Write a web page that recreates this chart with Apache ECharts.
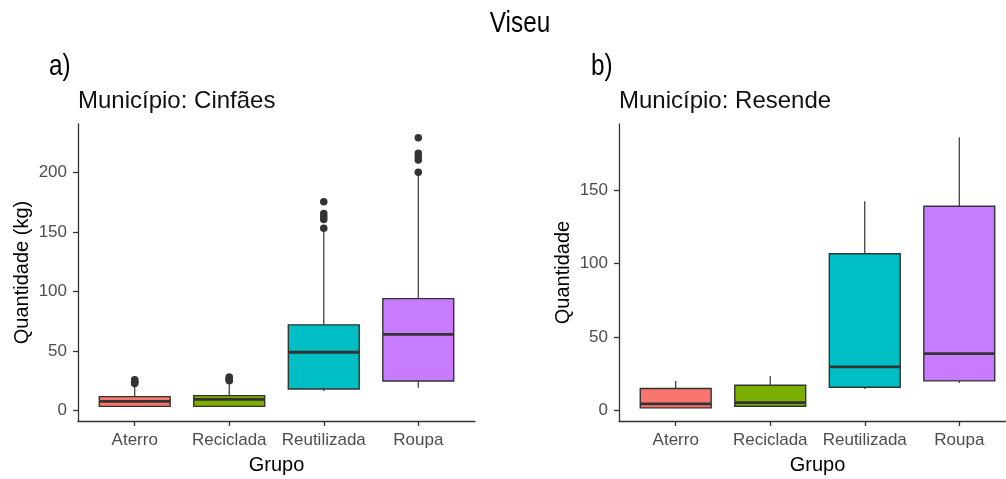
<!DOCTYPE html>
<html>
<head>
<meta charset="utf-8">
<script src="https://cdn.jsdelivr.net/npm/echarts@6/dist/echarts.min.js"></script>
<style>
  html, body { margin: 0; padding: 0; background: #fff; }
  #chart { width: 1006px; height: 479px; }
</style>
</head>
<body>
<div id="chart"></div>
<script>
// Groups shown on both panels
const categories = ['Aterro', 'Reciclada', 'Reutilizada', 'Roupa'];
const fills = ['#F8766D', '#7CAE00', '#00BFC4', '#C77CFF'];

// Box statistics per group: [lower whisker, Q1, median, Q3, upper whisker]
const cinfaesStats = [
  [3.6, 3.6, 7.8, 11.8, 19.8],
  [3.6, 3.6, 9.5, 12.6, 22.2],
  [16.5, 18.2, 49, 72, 150],
  [19.3, 24.9, 64, 94, 198]
];
const cinfaesOutliers = [
  [22.8, 23.7, 24.6, 25.9],
  [25, 26, 27, 28.2],
  [153, 160.5, 163, 165.5, 175.3],
  [200, 210.3, 213, 216, 229]
];
const resendeStats = [
  [1.5, 1.8, 4.5, 15, 20.2],
  [2.5, 2.9, 5.4, 17.2, 23.6],
  [14.7, 15.9, 29.7, 106.7, 142.4],
  [18.8, 20.2, 38.8, 139, 186]
];
const resendeOutliers = [[], [], [], []];

// Axis ticks and ranges
const cinfaesTicks = [0, 50, 100, 150, 200];
const resendeTicks = [0, 50, 100, 150];
const cinfaesRange = [-8.7, 240.6];
const resendeRange = [-7.1, 195];
const groupTicks = [1, 2, 3, 4];

const INK = '#333333';
const TICK_TEXT = '#4D4D4D';
const SANS = "'Liberation Sans', Arial, sans-serif";

function boxData(stats) {
  return stats.map((s, i) => [i + 1].concat(s));
}
function outlierData(outs) {
  const pts = [];
  outs.forEach((list, i) => list.forEach(v => pts.push([i + 1, v])));
  return pts;
}

// ggplot-style box: whiskers without caps, filled box, thick median
function renderBox(params, api) {
  const x = api.value(0);
  const lo = api.coord([x, api.value(1)]);
  const q1 = api.coord([x, api.value(2)]);
  const med = api.coord([x, api.value(3)]);
  const q3 = api.coord([x, api.value(4)]);
  const hi = api.coord([x, api.value(5)]);
  const half = api.size([0.75, 0])[0] / 2;
  const cx = q1[0];
  return {
    type: 'group',
    children: [
      { type: 'line', shape: { x1: cx, y1: q3[1], x2: cx, y2: hi[1] },
        style: { stroke: INK, lineWidth: 1.2 } },
      { type: 'line', shape: { x1: cx, y1: q1[1], x2: cx, y2: lo[1] },
        style: { stroke: INK, lineWidth: 1.2 } },
      { type: 'rect', shape: { x: cx - half, y: q3[1], width: half * 2, height: q1[1] - q3[1] },
        style: { fill: fills[params.dataIndex], stroke: INK, lineWidth: 1.4 } },
      { type: 'line', shape: { x1: cx - half, y1: med[1], x2: cx + half, y2: med[1] },
        style: { stroke: INK, lineWidth: 2.8 } }
    ]
  };
}

function xAxisFor(gridIndex) {
  return {
    gridIndex: gridIndex,
    type: 'value',
    min: 0.4,
    max: 4.6,
    name: 'Grupo',
    nameLocation: 'middle',
    nameGap: 34,
    nameTextStyle: { color: '#000', fontSize: 20, fontFamily: SANS },
    axisLine: { show: true, onZero: false, lineStyle: { color: INK, width: 1.3 } },
    axisTick: { show: true, length: 5, customValues: groupTicks, lineStyle: { color: INK, width: 1.3 } },
    axisLabel: {
      customValues: groupTicks,
      margin: 11,
      color: TICK_TEXT,
      fontSize: 17,
      fontFamily: SANS,
      formatter: v => categories[Math.round(v) - 1]
    },
    splitLine: { show: false }
  };
}

function yAxisFor(gridIndex, range, ticks, label, gap) {
  return {
    gridIndex: gridIndex,
    type: 'value',
    min: range[0],
    max: range[1],
    name: label,
    nameLocation: 'middle',
    nameGap: gap,
    nameTextStyle: { color: '#000', fontSize: 20, fontFamily: SANS },
    axisLine: { show: true, onZero: false, lineStyle: { color: INK, width: 1.3 } },
    axisTick: { show: true, length: 5, customValues: ticks, lineStyle: { color: INK, width: 1.3 } },
    axisLabel: { customValues: ticks, margin: 11, color: TICK_TEXT, fontSize: 17, fontFamily: SANS },
    splitLine: { show: false }
  };
}

// Condensed heading text (horizontally squeezed sans)
function heading(text, x, y, align) {
  return {
    type: 'text',
    x: x,
    y: y,
    scaleX: 0.84,
    style: {
      text: text,
      fontFamily: SANS,
      fontSize: 29,
      fill: '#000',
      align: align,
      verticalAlign: 'top'
    }
  };
}

const chart = echarts.init(document.getElementById('chart'), null, { renderer: 'canvas' });

chart.setOption({
  backgroundColor: '#ffffff',
  animation: false,
  graphic: [
    heading('Viseu', 520, 9, 'center'),
    heading('a)', 49, 52, 'left'),
    heading('b)', 591, 52, 'left')
  ],
  title: [
    { text: 'Município: Cinfães', left: 78, top: 89, padding: 0,
      textStyle: { fontFamily: SANS, fontSize: 24, fontWeight: 'normal', color: '#111' } },
    { text: 'Município: Resende', left: 619, top: 89, padding: 0,
      textStyle: { fontFamily: SANS, fontSize: 24, fontWeight: 'normal', color: '#111' } }
  ],
  grid: [
    { left: 78, top: 124, width: 397, height: 297, containLabel: false, outerBoundsMode: 'none' },
    { left: 619, top: 124, width: 397, height: 297, containLabel: false, outerBoundsMode: 'none' }
  ],
  xAxis: [xAxisFor(0), xAxisFor(1)],
  yAxis: [
    yAxisFor(0, cinfaesRange, cinfaesTicks, 'Quantidade (kg)', 46),
    yAxisFor(1, resendeRange, resendeTicks, 'Quantidade', 46)
  ],
  series: [
    { type: 'custom', xAxisIndex: 0, yAxisIndex: 0, renderItem: renderBox,
      data: boxData(cinfaesStats), encode: { x: 0, y: [1, 2, 3, 4, 5] } },
    { type: 'scatter', xAxisIndex: 0, yAxisIndex: 0, symbolSize: 7.5,
      itemStyle: { color: INK, opacity: 1 }, data: outlierData(cinfaesOutliers) },
    { type: 'custom', xAxisIndex: 1, yAxisIndex: 1, renderItem: renderBox,
      data: boxData(resendeStats), encode: { x: 0, y: [1, 2, 3, 4, 5] } },
    { type: 'scatter', xAxisIndex: 1, yAxisIndex: 1, symbolSize: 7.5,
      itemStyle: { color: INK, opacity: 1 }, data: outlierData(resendeOutliers) }
  ]
});
</script>
</body>
</html>
